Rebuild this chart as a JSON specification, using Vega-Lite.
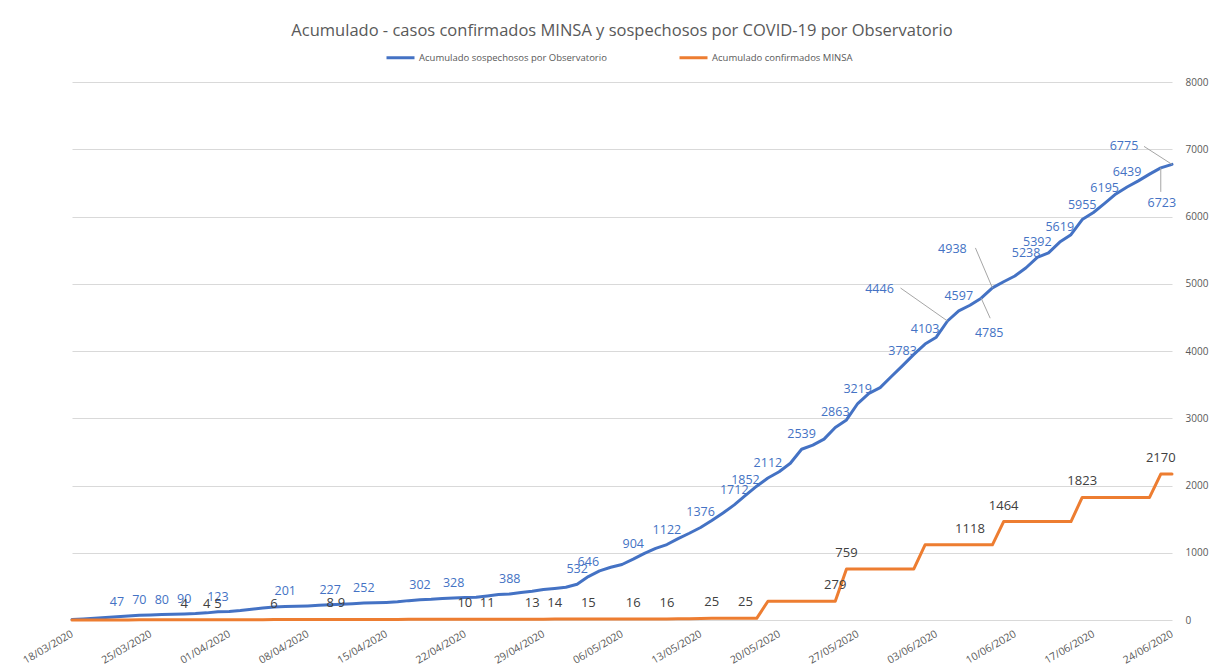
{
  "$schema": "https://vega.github.io/schema/vega-lite/v6.json",
  "width": 1100,
  "height": 538,
  "autosize": {"type": "none"},
  "padding": {"left": 72, "top": 82, "right": 40, "bottom": 46},
  "background": "white",
  "config": {
    "view": {"stroke": null},
    "font": "Open Sans",
    "axis": {"labelFont": "Open Sans"},
    "legend": {"labelFont": "Open Sans"}
  },
  "title": {
    "text": "Acumulado - casos confirmados MINSA y sospechosos por COVID-19 por Observatorio",
    "font": "Open Sans",
    "fontSize": 16.5,
    "fontWeight": "normal",
    "color": "#595959",
    "anchor": "middle",
    "frame": "group",
    "offset": 3
  },
  "data": {
    "values": [
      {"date": "2020-03-18", "sospechosos": 8, "confirmados": 0},
      {"date": "2020-03-19", "sospechosos": 15, "confirmados": 0},
      {"date": "2020-03-20", "sospechosos": 25, "confirmados": 0},
      {"date": "2020-03-21", "sospechosos": 36, "confirmados": 1},
      {"date": "2020-03-22", "sospechosos": 47, "confirmados": 1, "ls": 1},
      {"date": "2020-03-23", "sospechosos": 58, "confirmados": 1},
      {"date": "2020-03-24", "sospechosos": 70, "confirmados": 2, "ls": 1},
      {"date": "2020-03-25", "sospechosos": 75, "confirmados": 2},
      {"date": "2020-03-26", "sospechosos": 80, "confirmados": 2, "ls": 1},
      {"date": "2020-03-27", "sospechosos": 85, "confirmados": 3},
      {"date": "2020-03-28", "sospechosos": 90, "confirmados": 4, "ls": 1, "lc": 1},
      {"date": "2020-03-29", "sospechosos": 96, "confirmados": 4},
      {"date": "2020-03-30", "sospechosos": 106, "confirmados": 4, "lc": 1},
      {"date": "2020-03-31", "sospechosos": 123, "confirmados": 5, "ls": 1, "lc": 1},
      {"date": "2020-04-01", "sospechosos": 128, "confirmados": 5},
      {"date": "2020-04-02", "sospechosos": 140, "confirmados": 5},
      {"date": "2020-04-03", "sospechosos": 160, "confirmados": 5},
      {"date": "2020-04-04", "sospechosos": 180, "confirmados": 5},
      {"date": "2020-04-05", "sospechosos": 195, "confirmados": 6, "lc": 1},
      {"date": "2020-04-06", "sospechosos": 201, "confirmados": 6, "ls": 1},
      {"date": "2020-04-07", "sospechosos": 205, "confirmados": 6},
      {"date": "2020-04-08", "sospechosos": 210, "confirmados": 7},
      {"date": "2020-04-09", "sospechosos": 218, "confirmados": 7},
      {"date": "2020-04-10", "sospechosos": 227, "confirmados": 8, "ls": 1, "lc": 1},
      {"date": "2020-04-11", "sospechosos": 235, "confirmados": 9, "lc": 1},
      {"date": "2020-04-12", "sospechosos": 243, "confirmados": 9},
      {"date": "2020-04-13", "sospechosos": 252, "confirmados": 9, "ls": 1},
      {"date": "2020-04-14", "sospechosos": 256, "confirmados": 9},
      {"date": "2020-04-15", "sospechosos": 262, "confirmados": 9},
      {"date": "2020-04-16", "sospechosos": 270, "confirmados": 9},
      {"date": "2020-04-17", "sospechosos": 288, "confirmados": 10},
      {"date": "2020-04-18", "sospechosos": 302, "confirmados": 10, "ls": 1},
      {"date": "2020-04-19", "sospechosos": 307, "confirmados": 10},
      {"date": "2020-04-20", "sospechosos": 318, "confirmados": 10},
      {"date": "2020-04-21", "sospechosos": 328, "confirmados": 10, "ls": 1},
      {"date": "2020-04-22", "sospechosos": 333, "confirmados": 10, "lc": 1},
      {"date": "2020-04-23", "sospechosos": 340, "confirmados": 10},
      {"date": "2020-04-24", "sospechosos": 358, "confirmados": 11, "lc": 1},
      {"date": "2020-04-25", "sospechosos": 378, "confirmados": 11},
      {"date": "2020-04-26", "sospechosos": 388, "confirmados": 12, "ls": 1},
      {"date": "2020-04-27", "sospechosos": 410, "confirmados": 12},
      {"date": "2020-04-28", "sospechosos": 428, "confirmados": 13, "lc": 1},
      {"date": "2020-04-29", "sospechosos": 455, "confirmados": 13},
      {"date": "2020-04-30", "sospechosos": 470, "confirmados": 14, "lc": 1},
      {"date": "2020-05-01", "sospechosos": 488, "confirmados": 14},
      {"date": "2020-05-02", "sospechosos": 532, "confirmados": 14, "ls": 1},
      {"date": "2020-05-03", "sospechosos": 646, "confirmados": 15, "ls": 1, "lc": 1},
      {"date": "2020-05-04", "sospechosos": 730, "confirmados": 15},
      {"date": "2020-05-05", "sospechosos": 785, "confirmados": 15},
      {"date": "2020-05-06", "sospechosos": 825, "confirmados": 15},
      {"date": "2020-05-07", "sospechosos": 904, "confirmados": 16, "ls": 1, "lc": 1},
      {"date": "2020-05-08", "sospechosos": 990, "confirmados": 16},
      {"date": "2020-05-09", "sospechosos": 1065, "confirmados": 16},
      {"date": "2020-05-10", "sospechosos": 1122, "confirmados": 16, "ls": 1, "lc": 1},
      {"date": "2020-05-11", "sospechosos": 1210, "confirmados": 18},
      {"date": "2020-05-12", "sospechosos": 1290, "confirmados": 20},
      {"date": "2020-05-13", "sospechosos": 1376, "confirmados": 22, "ls": 1},
      {"date": "2020-05-14", "sospechosos": 1480, "confirmados": 25, "lc": 1},
      {"date": "2020-05-15", "sospechosos": 1590, "confirmados": 25},
      {"date": "2020-05-16", "sospechosos": 1712, "confirmados": 25, "ls": 1},
      {"date": "2020-05-17", "sospechosos": 1852, "confirmados": 25, "ls": 1, "lc": 1},
      {"date": "2020-05-18", "sospechosos": 1990, "confirmados": 25},
      {"date": "2020-05-19", "sospechosos": 2112, "confirmados": 279, "ls": 1},
      {"date": "2020-05-20", "sospechosos": 2205, "confirmados": 279},
      {"date": "2020-05-21", "sospechosos": 2330, "confirmados": 279},
      {"date": "2020-05-22", "sospechosos": 2539, "confirmados": 279, "ls": 1},
      {"date": "2020-05-23", "sospechosos": 2600, "confirmados": 279},
      {"date": "2020-05-24", "sospechosos": 2690, "confirmados": 279},
      {"date": "2020-05-25", "sospechosos": 2863, "confirmados": 279, "ls": 1, "lc": 1},
      {"date": "2020-05-26", "sospechosos": 2975, "confirmados": 759, "lc": 1},
      {"date": "2020-05-27", "sospechosos": 3219, "confirmados": 759, "ls": 1},
      {"date": "2020-05-28", "sospechosos": 3370, "confirmados": 759},
      {"date": "2020-05-29", "sospechosos": 3455, "confirmados": 759},
      {"date": "2020-05-30", "sospechosos": 3620, "confirmados": 759},
      {"date": "2020-05-31", "sospechosos": 3783, "confirmados": 759, "ls": 1},
      {"date": "2020-06-01", "sospechosos": 3950, "confirmados": 759},
      {"date": "2020-06-02", "sospechosos": 4103, "confirmados": 1118, "ls": 1},
      {"date": "2020-06-03", "sospechosos": 4205, "confirmados": 1118},
      {"date": "2020-06-04", "sospechosos": 4446, "confirmados": 1118, "ls": 1},
      {"date": "2020-06-05", "sospechosos": 4597, "confirmados": 1118, "ls": 1},
      {"date": "2020-06-06", "sospechosos": 4680, "confirmados": 1118, "lc": 1},
      {"date": "2020-06-07", "sospechosos": 4785, "confirmados": 1118, "ls": 1},
      {"date": "2020-06-08", "sospechosos": 4938, "confirmados": 1118, "ls": 1},
      {"date": "2020-06-09", "sospechosos": 5030, "confirmados": 1464, "lc": 1},
      {"date": "2020-06-10", "sospechosos": 5115, "confirmados": 1464},
      {"date": "2020-06-11", "sospechosos": 5238, "confirmados": 1464, "ls": 1},
      {"date": "2020-06-12", "sospechosos": 5392, "confirmados": 1464, "ls": 1},
      {"date": "2020-06-13", "sospechosos": 5460, "confirmados": 1464},
      {"date": "2020-06-14", "sospechosos": 5619, "confirmados": 1464, "ls": 1},
      {"date": "2020-06-15", "sospechosos": 5730, "confirmados": 1464},
      {"date": "2020-06-16", "sospechosos": 5955, "confirmados": 1823, "ls": 1, "lc": 1},
      {"date": "2020-06-17", "sospechosos": 6060, "confirmados": 1823},
      {"date": "2020-06-18", "sospechosos": 6195, "confirmados": 1823, "ls": 1},
      {"date": "2020-06-19", "sospechosos": 6335, "confirmados": 1823},
      {"date": "2020-06-20", "sospechosos": 6439, "confirmados": 1823, "ls": 1},
      {"date": "2020-06-21", "sospechosos": 6530, "confirmados": 1823},
      {"date": "2020-06-22", "sospechosos": 6630, "confirmados": 1823},
      {"date": "2020-06-23", "sospechosos": 6723, "confirmados": 2170, "ls": 1, "lc": 1},
      {"date": "2020-06-24", "sospechosos": 6775, "confirmados": 2170, "ls": 1}
    ]
  },
  "encoding": {
    "x": {
      "field": "date",
      "type": "temporal",
      "scale": {
        "type": "utc",
        "domain": [
          {"year": 2020, "month": 3, "date": 18, "utc": true},
          {"year": 2020, "month": 6, "date": 24, "utc": true}
        ]
      },
      "axis": {
        "title": null,
        "format": "%d/%m/%Y",
        "values": [
          {"year": 2020, "month": 3, "date": 18, "utc": true},
          {"year": 2020, "month": 3, "date": 25, "utc": true},
          {"year": 2020, "month": 4, "date": 1, "utc": true},
          {"year": 2020, "month": 4, "date": 8, "utc": true},
          {"year": 2020, "month": 4, "date": 15, "utc": true},
          {"year": 2020, "month": 4, "date": 22, "utc": true},
          {"year": 2020, "month": 4, "date": 29, "utc": true},
          {"year": 2020, "month": 5, "date": 6, "utc": true},
          {"year": 2020, "month": 5, "date": 13, "utc": true},
          {"year": 2020, "month": 5, "date": 20, "utc": true},
          {"year": 2020, "month": 5, "date": 27, "utc": true},
          {"year": 2020, "month": 6, "date": 3, "utc": true},
          {"year": 2020, "month": 6, "date": 10, "utc": true},
          {"year": 2020, "month": 6, "date": 17, "utc": true},
          {"year": 2020, "month": 6, "date": 24, "utc": true}
        ],
        "labelAngle": -30,
        "labelAlign": "right",
        "labelBaseline": "middle",
        "labelPadding": 13,
        "labelFontSize": 10.5,
        "labelColor": "#595959",
        "labelOverlap": false,
        "labelBound": false,
        "labelFlush": false,
        "ticks": false,
        "domain": false,
        "grid": false
      }
    }
  },
  "layer": [
    {
      "transform": [{"fold": ["sospechosos", "confirmados"], "as": ["serie", "valor"]}],
      "mark": {"type": "line", "strokeWidth": 3, "strokeJoin": "round", "strokeCap": "round"},
      "encoding": {
        "y": {
          "field": "valor",
          "type": "quantitative",
          "scale": {"domain": [0, 8000], "nice": false},
          "axis": {
            "orient": "right",
            "title": null,
            "values": [0, 1000, 2000, 3000, 4000, 5000, 6000, 7000, 8000],
            "format": "d",
            "labelFontSize": 10,
            "labelColor": "#595959",
            "labelPadding": 13,
            "ticks": false,
            "domain": false,
            "grid": true,
            "gridColor": "#D9D9D9",
            "gridWidth": 1
          }
        },
        "color": {
          "field": "serie",
          "type": "nominal",
          "scale": {"domain": ["sospechosos", "confirmados"], "range": ["#4472C4", "#ED7D31"]},
          "legend": {
            "title": null,
            "orient": "none",
            "legendX": 313,
            "legendY": -40,
            "direction": "horizontal",
            "symbolType": "stroke",
            "symbolSize": 784,
            "symbolStrokeWidth": 3,
            "labelFontSize": 9.5,
            "labelLimit": 400,
            "labelColor": "#595959",
            "labelOffset": 3,
            "columnPadding": 66,
            "labelExpr": "datum.label == 'sospechosos' ? 'Acumulado sospechosos por Observatorio' : 'Acumulado confirmados MINSA'"
          }
        }
      }
    },
    {
      "transform": [{"filter": "datum.ls == 1 && indexof([4446, 4785, 4938, 6723, 6775], datum.sospechosos) < 0"}],
      "mark": {"type": "text", "dy": -15, "fontSize": 12.5, "color": "#4472C4", "font": "Open Sans", "baseline": "middle"},
      "encoding": {
        "y": {"field": "sospechosos", "type": "quantitative"},
        "text": {"field": "sospechosos", "type": "quantitative", "format": "d"}
      }
    },
    {
      "transform": [{"filter": "datum.lc == 1"}],
      "mark": {"type": "text", "dy": -16, "fontSize": 13, "color": "#404040", "font": "Open Sans", "baseline": "middle"},
      "encoding": {
        "y": {"field": "confirmados", "type": "quantitative"},
        "text": {"field": "confirmados", "type": "quantitative", "format": "d"}
      }
    },
    {
      "transform": [{"filter": "datum.sospechosos == 4446"}],
      "mark": {"type": "rule", "color": "#A6A6A6", "strokeWidth": 1, "x2Offset": -47, "y2Offset": -33},
      "encoding": {
        "y": {"field": "sospechosos", "type": "quantitative"},
        "x2": {"field": "date"},
        "y2": {"field": "sospechosos"}
      }
    },
    {
      "transform": [{"filter": "datum.sospechosos == 4785"}],
      "mark": {"type": "rule", "color": "#A6A6A6", "strokeWidth": 1, "x2Offset": 9, "y2Offset": 20},
      "encoding": {
        "y": {"field": "sospechosos", "type": "quantitative"},
        "x2": {"field": "date"},
        "y2": {"field": "sospechosos"}
      }
    },
    {
      "transform": [{"filter": "datum.sospechosos == 4938"}],
      "mark": {"type": "rule", "color": "#A6A6A6", "strokeWidth": 1, "x2Offset": -17, "y2Offset": -40},
      "encoding": {
        "y": {"field": "sospechosos", "type": "quantitative"},
        "x2": {"field": "date"},
        "y2": {"field": "sospechosos"}
      }
    },
    {
      "transform": [{"filter": "datum.sospechosos == 6723"}],
      "mark": {"type": "rule", "color": "#A6A6A6", "strokeWidth": 1, "x2Offset": 0, "y2Offset": 24},
      "encoding": {
        "y": {"field": "sospechosos", "type": "quantitative"},
        "x2": {"field": "date"},
        "y2": {"field": "sospechosos"}
      }
    },
    {
      "transform": [{"filter": "datum.sospechosos == 6775"}],
      "mark": {"type": "rule", "color": "#A6A6A6", "strokeWidth": 1, "x2Offset": -28, "y2Offset": -18},
      "encoding": {
        "y": {"field": "sospechosos", "type": "quantitative"},
        "x2": {"field": "date"},
        "y2": {"field": "sospechosos"}
      }
    },
    {
      "transform": [{"filter": "datum.sospechosos == 4446"}],
      "mark": {"type": "text", "dx": -68, "dy": -32, "fontSize": 12.5, "color": "#4472C4", "font": "Open Sans", "baseline": "middle"},
      "encoding": {
        "y": {"field": "sospechosos", "type": "quantitative"},
        "text": {"field": "sospechosos", "type": "quantitative", "format": "d"}
      }
    },
    {
      "transform": [{"filter": "datum.sospechosos == 4785"}],
      "mark": {"type": "text", "dx": 8, "dy": 35, "fontSize": 12.5, "color": "#4472C4", "font": "Open Sans", "baseline": "middle"},
      "encoding": {
        "y": {"field": "sospechosos", "type": "quantitative"},
        "text": {"field": "sospechosos", "type": "quantitative", "format": "d"}
      }
    },
    {
      "transform": [{"filter": "datum.sospechosos == 4938"}],
      "mark": {"type": "text", "dx": -40, "dy": -39, "fontSize": 12.5, "color": "#4472C4", "font": "Open Sans", "baseline": "middle"},
      "encoding": {
        "y": {"field": "sospechosos", "type": "quantitative"},
        "text": {"field": "sospechosos", "type": "quantitative", "format": "d"}
      }
    },
    {
      "transform": [{"filter": "datum.sospechosos == 6723"}],
      "mark": {"type": "text", "dx": 1, "dy": 35, "fontSize": 12.5, "color": "#4472C4", "font": "Open Sans", "baseline": "middle"},
      "encoding": {
        "y": {"field": "sospechosos", "type": "quantitative"},
        "text": {"field": "sospechosos", "type": "quantitative", "format": "d"}
      }
    },
    {
      "transform": [{"filter": "datum.sospechosos == 6775"}],
      "mark": {"type": "text", "dx": -48, "dy": -18, "fontSize": 12.5, "color": "#4472C4", "font": "Open Sans", "baseline": "middle"},
      "encoding": {
        "y": {"field": "sospechosos", "type": "quantitative"},
        "text": {"field": "sospechosos", "type": "quantitative", "format": "d"}
      }
    }
  ]
}
